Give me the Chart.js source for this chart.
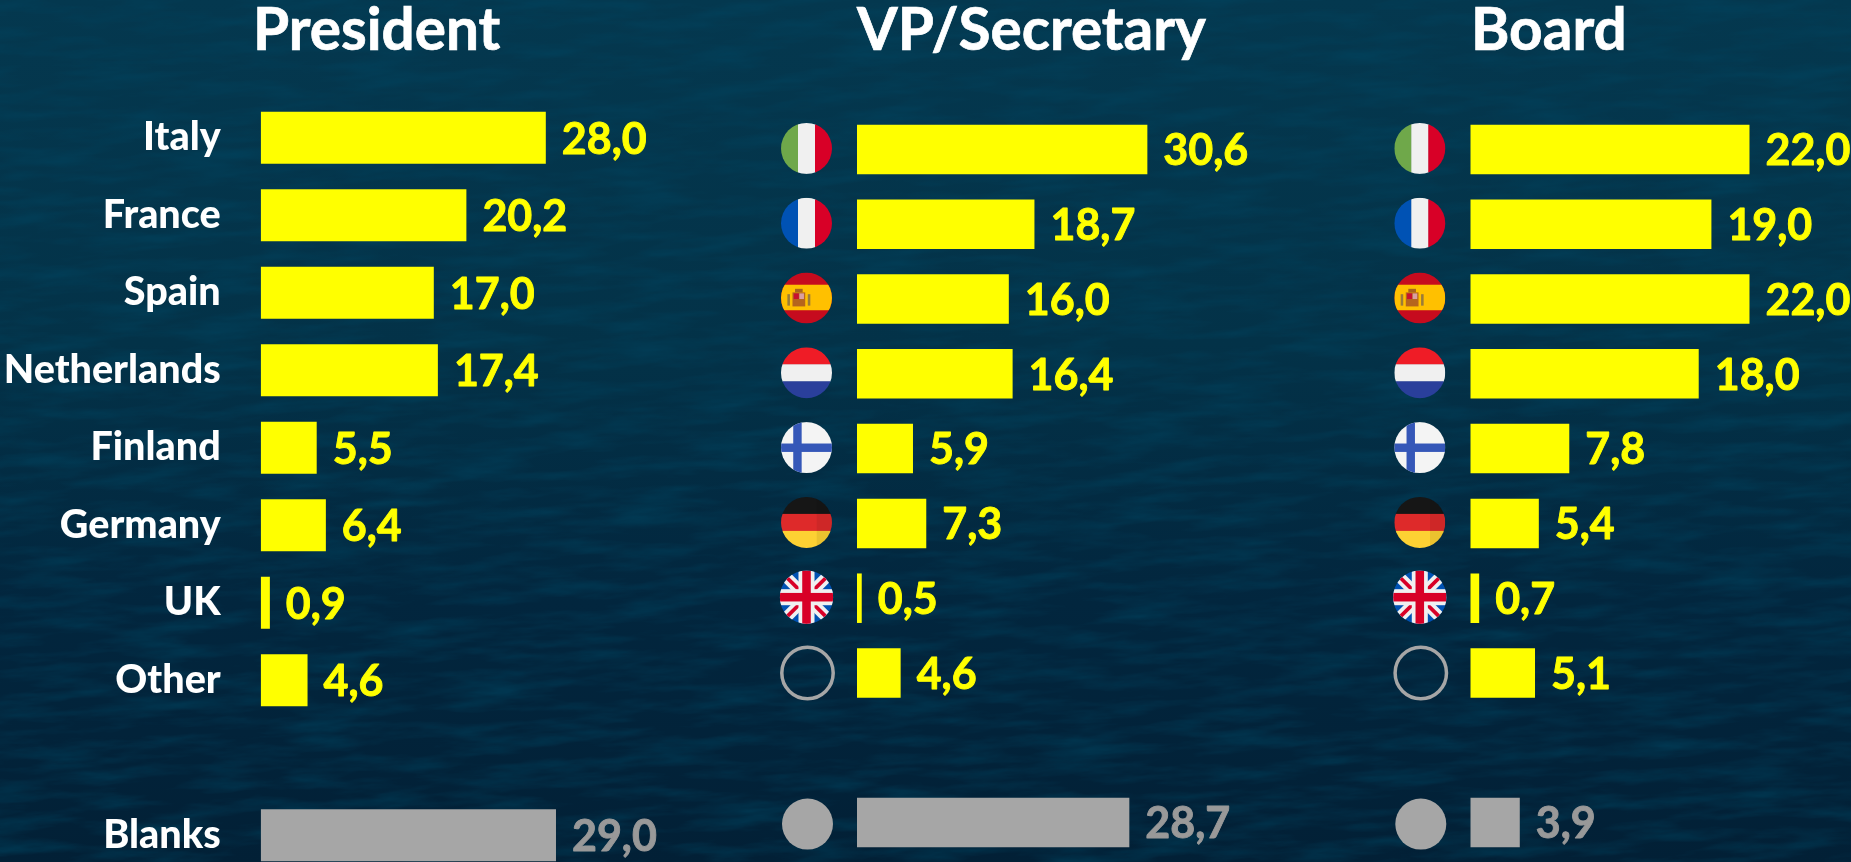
<!DOCTYPE html>
<html>
<head>
<meta charset="utf-8">
<title>President, VP/Secretary, Board</title>
<script src="https://cdn.jsdelivr.net/npm/chart.js@4/dist/chart.umd.js"></script>
<style>
    html, body { margin: 0; height: 100%; overflow: hidden; }
    body {
        width: 1851px;
        height: 862px;
        position: relative;
        background: linear-gradient(180deg, #04384f 0%, #033248 40%, #02263e 70%, #022036 100%);
    }
    #water {
        position: absolute;
        inset: -60px;
        transform: rotate(-3deg);
        background-image: url("data:image/svg+xml,%3Csvg xmlns='http://www.w3.org/2000/svg' width='2000' height='1000'%3E%3Cfilter id='w'%3E%3CfeTurbulence type='fractalNoise' baseFrequency='0.012 0.075' numOctaves='5' seed='7'/%3E%3CfeColorMatrix values='0 0 0 0 0 0 0 0 0 0.06 0 0 0 0 0.12 1.1 0 0 0 -0.44'/%3E%3C/filter%3E%3Crect width='100%25' height='100%25' filter='url(%23w)'/%3E%3C/svg%3E");
    }
    h2 {
        position: absolute;
        top: -8px;
        margin: 0;
        color: #fff;
        font: 700 58.5px/70px Lato, sans-serif;
        -webkit-text-stroke: 0.7px #fff;
    }
    .col { position: absolute; }
    canvas { display: block; }
</style>
</head>
<body>
<div id="water"></div>
<h2 style="left:253px">President</h2>
<h2 style="left:857px">VP/Secretary</h2>
<h2 style="left:1471px">Board</h2>
<div class="col" style="left:0;top:99px"><canvas id="presidentChart" width="668" height="775"></canvas></div>
<div class="col" style="left:770px;top:112px"><canvas id="vpChart" width="514" height="748"></canvas></div>
<div class="col" style="left:1383px;top:112px"><canvas id="boardChart" width="468" height="748"></canvas></div>

<script>
// the empty category is the gap above Blanks
const categories = ["Italy", "France", "Spain", "Netherlands", "Finland", "Germany", "UK", "Other", "", "Blanks"];
const presidentValues = [28.0, 20.2, 17.0, 17.4, 5.5, 6.4, 0.9, 4.6, null, 29.0];
const vpValues = [30.6, 18.7, 16.0, 16.4, 5.9, 7.3, 0.5, 4.6, null, 28.7];
const boardValues = [22.0, 19.0, 22.0, 18.0, 7.8, 5.4, 0.7, 5.1, null, 3.9];

const YELLOW = "#ffff00";
const GREY = "#a6a6a6";
const GREY_TEXT = "#999999";

function stripesV(ctx, cx, cy, r, colors) {
    colors.forEach((c, i) => {
        ctx.fillStyle = c;
        ctx.fillRect(cx - r + i * 2 * r / 3, cy - r, 2 * r / 3 + 0.5, 2 * r);
    });
}

function stripesH(ctx, cx, cy, r, colors) {
    colors.forEach((c, i) => {
        ctx.fillStyle = c;
        ctx.fillRect(cx - r, cy - r + i * 2 * r / 3, 2 * r, 2 * r / 3 + 0.5);
    });
}

function line(ctx, x1, y1, x2, y2, color, width) {
    ctx.strokeStyle = color;
    ctx.lineWidth = width;
    ctx.beginPath();
    ctx.moveTo(x1, y1);
    ctx.lineTo(x2, y2);
    ctx.stroke();
}

const flags = {
    Italy(ctx, x, y, r) { stripesV(ctx, x, y, r, ["#6fa84a", "#f0f0f0", "#d80027"]); },
    France(ctx, x, y, r) { stripesV(ctx, x, y, r, ["#0052b4", "#f0f0f0", "#d80027"]); },
    Netherlands(ctx, x, y, r) { stripesH(ctx, x, y, r, ["#ef1c26", "#f0f0f0", "#2a3f9b"]); },
    Germany(ctx, x, y, r) {
        stripesH(ctx, x, y, r, ["#161616", "#de2a2a", "#fdd133"]);
        ctx.fillStyle = "rgba(0,0,0,0.07)";
        ctx.fillRect(x + r * 0.4, y - r, r, 2 * r);
    },
    Spain(ctx, x, y, r) {
        ctx.fillStyle = "#c60b1e";
        ctx.fillRect(x - r, y - r, 2 * r, 2 * r);
        ctx.fillStyle = "#ffc000";
        ctx.fillRect(x - r, y - r * 0.52, 2 * r, r);
        ctx.fillStyle = "#b5651d";
        ctx.fillRect(x - r * 0.55, y - r * 0.22, r * 0.5, r * 0.55);
        ctx.fillStyle = "#c8102e";
        ctx.fillRect(x - r * 0.5, y - r * 0.18, r * 0.2, r * 0.22);
        ctx.fillStyle = "#d9a0a0";
        ctx.fillRect(x - r * 0.28, y - r * 0.18, r * 0.18, r * 0.22);
        ctx.fillStyle = "#a8651c";
        ctx.fillRect(x - r * 0.45, y - r * 0.36, r * 0.3, r * 0.14);
        ctx.fillStyle = "#9a7b3a";
        ctx.fillRect(x - r * 0.75, y - r * 0.15, r * 0.1, r * 0.45);
        ctx.fillRect(x + r * 0.05, y - r * 0.15, r * 0.1, r * 0.45);
    },
    Finland(ctx, x, y, r) {
        ctx.fillStyle = "#f4f4f4";
        ctx.fillRect(x - r, y - r, 2 * r, 2 * r);
        ctx.fillStyle = "#3557b8";
        ctx.fillRect(x - r * 0.52, y - r, r * 0.33, 2 * r);
        ctx.fillRect(x - r, y - r * 0.16, 2 * r, r * 0.33);
    },
    UK(ctx, x, y, r) {
        const d = r * 0.72;
        ctx.fillStyle = "#0052b4";
        ctx.fillRect(x - r, y - r, 2 * r, 2 * r);
        line(ctx, x - r, y - r, x + r, y + r, "#f0f0f0", r * 0.42);
        line(ctx, x - r, y + r, x + r, y - r, "#f0f0f0", r * 0.42);
        line(ctx, x - d, y - d, x - r * 0.15, y - r * 0.15, "#d80027", r * 0.14);
        line(ctx, x + d, y - d, x + r * 0.15, y - r * 0.15, "#d80027", r * 0.14);
        line(ctx, x - d, y + d, x - r * 0.15, y + r * 0.15, "#d80027", r * 0.14);
        line(ctx, x + d, y + d, x + r * 0.15, y + r * 0.15, "#d80027", r * 0.14);
        ctx.fillStyle = "#f0f0f0";
        ctx.fillRect(x - r * 0.3, y - r, r * 0.6, 2 * r);
        ctx.fillRect(x - r, y - r * 0.3, 2 * r, r * 0.6);
        ctx.fillStyle = "#d80027";
        ctx.fillRect(x - r * 0.16, y - r, r * 0.32, 2 * r);
        ctx.fillRect(x - r, y - r * 0.16, 2 * r, r * 0.32);
    },
};

// country markers sit left of the bars on the two charts without axis text
const flagPlugin = {
    id: "flagMarkers",
    afterDraw(chart) {
        const ctx = chart.ctx;
        const x = chart.chartArea.left - 50.5;
        categories.forEach((name, i) => {
            if (!name) return;
            const y = chart.scales.y.getPixelForValue(i);
            ctx.save();
            if (name === "Other") {
                ctx.strokeStyle = GREY;
                ctx.lineWidth = 3.5;
                ctx.beginPath();
                ctx.arc(x + 1, y, 25.7, 0, Math.PI * 2);
                ctx.stroke();
            } else if (name === "Blanks") {
                ctx.fillStyle = GREY;
                ctx.beginPath();
                ctx.arc(x + 1, y + 1.5, 25.5, 0, Math.PI * 2);
                ctx.fill();
            } else {
                const r = name === "UK" ? 26.7 : 25.5;
                const cy = y - 1;
                ctx.beginPath();
                ctx.arc(x, cy, r, 0, Math.PI * 2);
                ctx.clip();
                flags[name](ctx, x, cy, r);
            }
            ctx.restore();
        });
    },
};

const valueLabelPlugin = {
    id: "valueLabels",
    afterDatasetsDraw(chart) {
        const ctx = chart.ctx;
        const values = chart.data.datasets[0].data;
        ctx.save();
        ctx.font = "700 43px Lato, sans-serif";
        ctx.textAlign = "left";
        ctx.textBaseline = "middle";
        ctx.lineWidth = 0.9;
        ctx.lineJoin = "round";
        chart.getDatasetMeta(0).data.forEach((bar, i) => {
            if (values[i] === null) return;
            const color = categories[i] === "Blanks" ? GREY_TEXT : YELLOW;
            const text = values[i].toFixed(1).replace(".", ",");
            ctx.fillStyle = color;
            ctx.strokeStyle = color;
            ctx.fillText(text, bar.x + 16, bar.y + 2);
            ctx.strokeText(text, bar.x + 16, bar.y + 2);
        });
        ctx.restore();
    },
};

function createChart(id, values, opts) {
    const plugins = [valueLabelPlugin];
    if (!opts.showLabels) plugins.push(flagPlugin);
    return new Chart(document.getElementById(id), {
        type: "bar",
        data: {
            labels: categories,
            datasets: [{
                data: values,
                backgroundColor: categories.map((c) => (c === "Blanks" ? GREY : YELLOW)),
                borderWidth: 0,
                categoryPercentage: 1,
                barPercentage: opts.barPercentage,
            }],
        },
        options: {
            indexAxis: "y",
            responsive: false,
            animation: false,
            layout: { padding: 0 },
            plugins: {
                legend: { display: false },
                tooltip: { enabled: false },
            },
            scales: {
                x: {
                    display: false,
                    min: 0,
                    max: opts.max,
                },
                y: {
                    afterFit(axis) {
                        axis.width = opts.axisWidth;
                        // first and last label must not shrink the plot
                        axis.paddingTop = 0;
                        axis.paddingBottom = 0;
                    },
                    // ticks.padding also pads the axis ends, so the gap comes from tickLength
                    grid: { display: false, drawTicks: true, tickLength: 40 },
                    border: { display: false },
                    ticks: {
                        display: opts.showLabels,
                        autoSkip: false,
                        padding: 0,
                        color: "#ffffff",
                        font: { family: "Lato, sans-serif", size: 39.5, weight: "900" },
                    },
                },
            },
        },
        plugins: plugins,
    });
}

createChart("presidentChart", presidentValues, { max: 40, axisWidth: 260.7, barPercentage: 0.671, showLabels: true });
createChart("vpChart", vpValues, { max: 45, axisWidth: 87, barPercentage: 0.662, showLabels: false });
createChart("boardChart", boardValues, { max: 30, axisWidth: 87.3, barPercentage: 0.662, showLabels: false });
</script>
</body>
</html>
